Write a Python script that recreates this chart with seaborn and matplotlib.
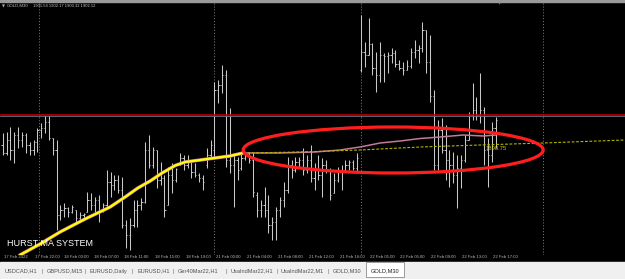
import matplotlib
matplotlib.use("Agg")
import matplotlib.pyplot as plt
import seaborn as sns
import pandas as pd
from matplotlib.patches import Ellipse, Rectangle

# ---------------- data (GOLD, M30) ----------------
highs = [1900.4, 1900.5, 1901.0, 1900.5, 1901.0, 1900.5, 1900.4, 1899.5, 1899.7, 1900.9,
         1901.4, 1902.2, 1902.2, 1899.9, 1899.7, 1893.2, 1893.4, 1893.0, 1893.2, 1892.7,
         1892.5, 1892.4, 1894.5, 1894.4, 1894.0, 1894.2, 1893.4, 1896.7, 1896.5, 1896.2,
         1896.2, 1896.0, 1891.7, 1891.9, 1893.7, 1893.7, 1893.9, 1899.5, 1900.2, 1899.0,
         1898.7, 1897.5, 1896.2, 1897.0, 1897.4, 1896.9, 1898.4, 1898.2, 1898.2, 1897.5,
         1897.4, 1896.4, 1896.2, 1898.9, 1899.7, 1905.5, 1905.7, 1907.2, 1906.7, 1902.9,
         1898.4, 1898.0, 1898.4, 1898.5, 1898.5, 1898.4, 1894.5, 1893.7, 1895.0, 1894.2,
         1892.0, 1893.0, 1894.0, 1895.5, 1898.0, 1897.7, 1898.0, 1898.0, 1898.9, 1898.2,
         1899.2, 1897.4, 1898.2, 1897.9, 1897.7, 1896.9, 1896.4, 1897.0, 1897.2, 1897.7,
         1897.7, 1897.7, 1898.4, 1912.2, 1909.5, 1911.9, 1909.4, 1908.5, 1909.5, 1908.4,
         1908.5, 1908.9, 1908.7, 1907.7, 1907.5, 1907.7, 1908.9, 1909.7, 1909.2, 1911.5,
         1910.7, 1910.2, 1904.7, 1901.7, 1901.9, 1901.2, 1898.7, 1898.5, 1898.2, 1898.2,
         1900.2, 1902.5, 1905.4, 1904.0, 1906.4, 1903.0, 1899.9, 1901.5, 1902.0]
lows = [1898.2, 1898.2, 1897.7, 1897.4, 1898.9, 1899.0, 1898.4, 1898.2, 1898.2, 1898.5,
        1899.9, 1900.4, 1899.7, 1898.2, 1890.7, 1891.7, 1892.0, 1892.0, 1892.4, 1891.5,
        1891.7, 1891.9, 1892.5, 1892.7, 1892.2, 1891.5, 1892.5, 1892.9, 1894.0, 1894.7,
        1894.4, 1890.9, 1888.9, 1888.7, 1891.0, 1891.0, 1892.7, 1893.4, 1896.9, 1896.9,
        1894.9, 1895.2, 1892.0, 1893.2, 1894.4, 1895.5, 1897.2, 1896.7, 1896.9, 1895.9,
        1896.0, 1895.5, 1894.7, 1896.9, 1897.9, 1898.0, 1903.4, 1904.4, 1897.0, 1896.4,
        1893.0, 1895.7, 1896.7, 1897.7, 1897.4, 1894.0, 1892.0, 1892.0, 1892.0, 1890.4,
        1889.7, 1889.7, 1892.0, 1893.0, 1894.4, 1895.9, 1896.5, 1897.0, 1896.2, 1896.4,
        1895.5, 1894.7, 1895.7, 1894.0, 1896.4, 1893.7, 1894.4, 1895.5, 1894.7, 1896.5,
        1896.7, 1896.7, 1896.5, 1906.5, 1907.0, 1908.2, 1906.2, 1904.5, 1905.5, 1905.5,
        1906.4, 1907.4, 1907.0, 1906.7, 1906.2, 1906.7, 1906.9, 1907.9, 1907.4, 1908.5,
        1906.4, 1903.5, 1896.7, 1896.7, 1898.4, 1895.7, 1895.0, 1895.4, 1892.9, 1894.9,
        1897.5, 1899.7, 1901.7, 1901.7, 1901.4, 1897.2, 1895.0, 1897.5, 1898.9]
opens = [1899.2, 1898.4, 1899.7, 1898.7, 1900.2, 1899.7, 1900.2, 1899.2, 1898.7, 1899.5,
         1900.7, 1900.9, 1901.5, 1899.9, 1898.7, 1892.2, 1892.7, 1892.9, 1892.5, 1892.7,
         1891.9, 1892.2, 1892.5, 1893.7, 1893.2, 1893.7, 1892.7, 1893.2, 1895.5, 1895.2,
         1895.7, 1894.7, 1891.2, 1890.2, 1891.2, 1892.7, 1893.2, 1893.5, 1898.7, 1897.2,
         1898.7, 1895.7, 1895.9, 1893.2, 1896.2, 1895.7, 1897.2, 1897.9, 1897.2, 1897.5,
         1896.5, 1896.2, 1895.9, 1897.2, 1898.2, 1898.7, 1904.7, 1905.2, 1906.2, 1897.7,
         1897.2, 1897.7, 1896.9, 1897.9, 1898.2, 1897.7, 1894.2, 1892.7, 1893.2, 1892.7,
         1891.2, 1891.5, 1892.7, 1893.7, 1894.7, 1897.2, 1896.7, 1897.5, 1897.7, 1896.7,
         1897.7, 1895.9, 1896.7, 1896.2, 1897.2, 1896.7, 1894.4, 1895.7, 1896.7, 1896.7,
         1897.2, 1897.5, 1896.9, 1906.7, 1908.5, 1908.2, 1909.3, 1906.9, 1906.2, 1908.2,
         1908.1, 1908.2, 1908.4, 1907.3, 1906.9, 1906.7, 1907.1, 1908.5, 1908.7, 1908.9,
         1910.7, 1907.5, 1904.1, 1897.2, 1900.7, 1898.7, 1897.7, 1897.2, 1896.2, 1896.9,
         1897.7, 1899.7, 1902.2, 1902.7, 1902.2, 1902.7, 1898.7, 1898.2, 1900.9]
closes = [1898.4, 1899.7, 1898.7, 1900.2, 1899.7, 1900.2, 1899.2, 1898.7, 1899.5, 1900.7,
          1900.9, 1901.5, 1899.9, 1898.7, 1892.2, 1892.7, 1892.9, 1892.5, 1893.0, 1891.9,
          1892.2, 1892.3, 1893.7, 1893.2, 1893.7, 1892.5, 1893.2, 1895.5, 1895.2, 1895.7,
          1894.7, 1891.2, 1890.2, 1891.2, 1892.7, 1893.2, 1893.5, 1898.7, 1897.2, 1898.7,
          1895.7, 1895.9, 1892.7, 1896.2, 1895.7, 1896.8, 1897.9, 1897.2, 1897.7, 1896.5,
          1896.2, 1895.9, 1895.5, 1898.2, 1899.2, 1904.7, 1905.2, 1906.2, 1897.7, 1897.2,
          1897.7, 1896.7, 1897.9, 1898.2, 1897.7, 1894.5, 1892.7, 1893.2, 1892.7, 1891.2,
          1891.5, 1892.7, 1893.7, 1894.7, 1897.2, 1896.7, 1897.5, 1897.7, 1896.7, 1897.7,
          1895.9, 1896.7, 1896.2, 1897.2, 1896.7, 1894.2, 1895.7, 1896.7, 1896.5, 1897.2,
          1897.5, 1896.9, 1897.9, 1908.5, 1908.2, 1909.3, 1906.9, 1906.2, 1908.2, 1908.1,
          1908.2, 1908.4, 1907.3, 1906.9, 1906.7, 1907.1, 1908.5, 1908.7, 1908.9, 1910.7,
          1907.5, 1904.1, 1897.2, 1900.7, 1898.7, 1897.7, 1897.2, 1896.2, 1896.9, 1897.7,
          1899.7, 1902.2, 1902.7, 1902.2, 1902.7, 1898.7, 1898.2, 1900.9, 1901.7]

tick_pos = [0, 8, 15.6, 23.3, 31.3, 39.2, 47.3, 55.1, 63.2, 71.1, 79.2, 87.3, 95.1,
            103, 111, 119, 127]
tick_labels = ["17 Feb 2022", "17 Feb 22:00", "18 Feb 03:00", "18 Feb 07:00",
               "18 Feb 11:00", "18 Feb 15:00", "18 Feb 19:00", "21 Feb 00:00",
               "21 Feb 04:00", "21 Feb 08:00", "21 Feb 12:00", "21 Feb 16:00",
               "22 Feb 01:00", "22 Feb 05:00", "22 Feb 09:00", "22 Feb 13:00",
               "22 Feb 17:00"]
day_breaks = [9.3, 55, 93, 140.3]

# HURST MA: confirmed (yellow) part, running part (pink), projection (dotted)
ma_solid_bar = [3.0, 4.5, 9.7, 14.9, 21.4, 27.9, 31.8, 35.1, 38.3, 41.4, 44.8, 47.4,
                51.3, 55.1, 59.0, 62.4]
ma_solid_val = [1887.5, 1888.2, 1889.3, 1890.5, 1891.8, 1893.0, 1894.0, 1894.9, 1895.6,
                1896.4, 1897.15, 1897.5, 1897.7, 1897.9, 1898.1, 1898.4]
ma_live_bar = [62.4, 72.0, 81.1, 87.6, 92.8, 98.0, 103.2, 108.4, 113.6, 119.6, 124.8, 128.0]
ma_live_val = [1898.4, 1898.4, 1898.5, 1898.7, 1899.0, 1899.4, 1899.6, 1899.85, 1900.0,
               1900.2, 1900.1, 1900.2]
proj_bar = [62.4, 77.2, 92.8, 108.4, 124.0, 140.3, 161.6]
proj_val = [1898.4, 1898.5, 1898.7, 1899.0, 1899.2, 1899.4, 1899.7]

ask_line = 1902.22
bid_line = 1902.10
proj_label = "1898.75"
header = "1901.54 1902.17 1900.32 1902.12"
tabs = ["USDCAD,H1", "GBPUSD,M15", "EURUSD,Daily", "EURUSD,H1", "Ger40Mar22,H1",
        "UsaIndMar22,H1", "UsaIndMar22,M1", "GOLD,M30"]
tab_x = [5, 47, 90, 137, 178, 231, 281, 333]
sep_x = [42, 85, 132, 173, 226, 277, 328]

# ---------------- figure ----------------
sns.set_theme(style="dark")
plt.rcParams["font.family"] = ["Liberation Sans", "DejaVu Sans"]

W, H = 625, 279
fig = plt.figure(figsize=(W / 100, H / 100), dpi=100, facecolor="black")
ax = fig.add_axes([0, 1 - 255 / H, 1, 253 / H])
ax.set_facecolor("black")
for s in ax.spines.values():
    s.set_visible(False)
ax.grid(False)

n = len(highs)
bars = pd.DataFrame({"bar": range(n), "high": highs, "low": lows,
                     "open": opens, "close": closes})

px = 1 / 3.85  # one pixel in bar units
bar_col = "#c8c8c8"
ax.vlines(bars["bar"], bars["low"], bars["high"], color=bar_col, lw=0.75, zorder=2)
ax.hlines(bars["open"], bars["bar"] - 1.2 * px, bars["bar"], color=bar_col, lw=0.7, zorder=2)
ax.hlines(bars["close"], bars["bar"], bars["bar"] + 1.2 * px, color=bar_col, lw=0.7, zorder=2)

# day separators
for d in day_breaks:
    ax.axvline(d, color="#8a8a8a", lw=0.6, ls=(0, (1.3, 2.2)), zorder=1)

# ask / bid lines
ax.axhline(ask_line, color="#b50000", lw=1.2, zorder=3)
ax.axhline(bid_line, color="#6c7585", lw=0.6, zorder=3)

# MA lines
sns.lineplot(x=ma_live_bar, y=ma_live_val, ax=ax, color="#c47a96", lw=1.1,
             sort=False, estimator=None, zorder=4)
sns.lineplot(x=ma_solid_bar, y=ma_solid_val, ax=ax, color="#c47a96", lw=2.5,
             sort=False, estimator=None, zorder=4)
sns.lineplot(x=ma_solid_bar, y=ma_solid_val, ax=ax, color="#ffff00", lw=1.6,
             sort=False, estimator=None, zorder=5)
sns.lineplot(x=proj_bar, y=proj_val, ax=ax, color="#b4b400", lw=0.8,
             ls=(0, (2.5, 1.5)), sort=False, estimator=None, zorder=4)

ax.text(125.3, 1898.87, proj_label, color="#cccc00", fontsize=4.2,
        va="center", ha="left", zorder=6)

# red ellipse
ax.add_patch(Ellipse((101.4, 1898.7), 77.9, 4.6, fill=False, ec="#ff1e1e",
                     lw=2.3, zorder=7))

ax.set_xlim(-0.7, 161.6)
ax.set_ylim(1888.2, 1913.5)
ax.set_yticks([])
ax.set_xticks(tick_pos)
ax.tick_params(axis="x", length=1.5, width=0.5, color="#909090",
               labelbottom=False, direction="out")
for b, lab in zip(tick_pos, tick_labels):
    ax.text(b + 0.3, -0.009, lab, transform=ax.get_xaxis_transform(),
            color="#b8b8b8", fontsize=3.05, ha="left", va="center", clip_on=False)

# texts on chart
fig.text(7 / W, 1 - 243.7 / H, "HURST MA SYSTEM", color="white", fontsize=6.5,
         ha="left", va="center", zorder=10)
fig.text(2 / W, 1 - 6 / H, "▼", color="#a8b0c0", fontsize=2.8, ha="left", va="center",
         family=["DejaVu Sans"])
fig.text(7 / W, 1 - 6 / H, "GOLD,M30", color="#c4c4c4", fontsize=3.1, ha="left", va="center")
fig.text(33 / W, 1 - 6 / H, header, color="#c4c4c4", fontsize=3.0, ha="left", va="center")
fig.text(499.3 / W, 1 - 3.3 / H, "▼", color="#8898a8", fontsize=3, ha="center",
         va="center", family=["DejaVu Sans"])

# top border
fig.patches.append(Rectangle((0, 1 - 1.6 / H), 1, 1.6 / H, transform=fig.transFigure,
                             color="#9a9a9a", zorder=0))

# tab bar
fig.patches.append(Rectangle((0, 0), 1, 17 / H, transform=fig.transFigure,
                             color="#f0f0f0", zorder=0))
fig.patches.append(Rectangle((366 / W, 2 / H), 38 / W, 15 / H, transform=fig.transFigure,
                             facecolor="white", edgecolor="#8c8c8c", lw=0.6, zorder=1))
ty = 1 - 271 / H
for x, t in zip(tab_x, tabs):
    fig.text(x / W, ty, t, color="#505050", fontsize=4.1, ha="left", va="center")
for x in sep_x:
    fig.text(x / W, ty, "|", color="#707070", fontsize=4.1, ha="center", va="center")
fig.text(385 / W, ty, "GOLD,M30", color="#202020", fontsize=4.1, ha="center", va="center")

fig.savefig("out.png", dpi=100, facecolor="black")
